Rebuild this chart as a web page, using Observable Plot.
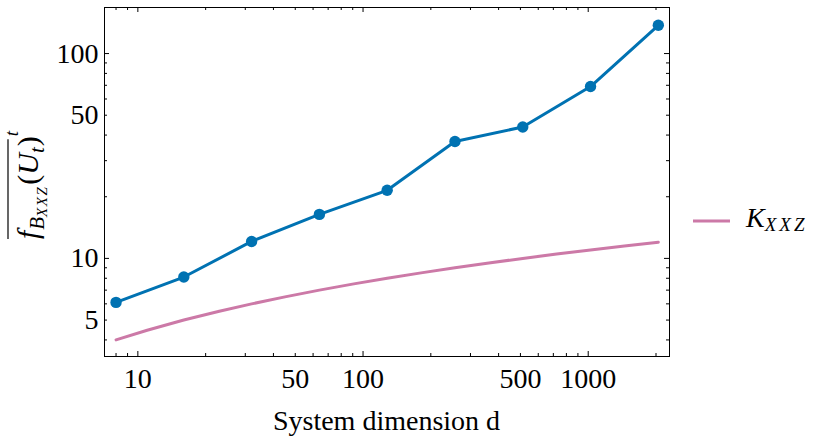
<!DOCTYPE html>
<html><head><meta charset="utf-8">
<script src="https://cdn.jsdelivr.net/npm/d3@7"></script>
<script src="https://cdn.jsdelivr.net/npm/@observablehq/plot@0.6"></script>
<style>body{margin:0;background:#fff} #chart{width:830px;height:444px}</style>
</head><body><div id="chart"></div>
<script>
const dims = [8, 16, 32, 64, 128, 256, 512, 1024, 2048];
const fidelity = [6.10, 8.11, 12.1, 16.4, 21.5, 37.2, 43.8, 69.0, 137.4];
const kDims = [8, 11, 16, 23, 32, 45, 64, 91, 128, 181, 256, 362, 512, 724, 1024, 1448, 2048];
const kValues = [4.0, 4.46, 5.0, 5.52, 6.0, 6.49, 7.0, 7.51, 8.0, 8.5, 9.0, 9.5, 10.0, 10.5, 11.0, 11.5, 12.0];
const xMajor = [10, 100, 1000];
const xMinor = [8, 9, 20, 30, 40, 50, 60, 70, 80, 90, 200, 300, 400, 500, 600, 700, 800, 900, 2000];
const xLabels = [10, 50, 100, 500, 1000];
const yMajor = [10, 100];
const yMinor = [4, 5, 6, 7, 8, 9, 20, 30, 40, 50, 60, 70, 80, 90];
const yLabels = [5, 10, 50, 100];
const xTitle = "System dimension d";
const legendName = ["K", "XXZ"];

const W = 830, H = 444, mL = 104, mR = 161, mT = 7, mB = 88;
const fh = H - mT - mB, fw = W - mL - mR;
const blue = "#0072B2", pink = "#CC79A7";
const FONT = "'Liberation Serif', 'Times New Roman', serif";

const fData = dims.map((d, i) => ({d, v: fidelity[i]}));
const kData = kDims.map((d, i) => ({d, v: kValues[i]}));

const chart = Plot.plot({
  width: W, height: H,
  marginLeft: mL, marginRight: mR, marginTop: mT, marginBottom: mB,
  style: {fontFamily: FONT, fontSize: "28px", background: "white", color: "black"},
  x: {type: "log", domain: [7.11, 2296], axis: null},
  y: {type: "log", domain: [3.32, 167.8], axis: null},
  marks: [
    Plot.text(xLabels, {x: d => d, frameAnchor: "bottom", dy: 12, lineAnchor: "top", text: d => String(d), fill: "black", fontSize: 28}),
    Plot.text(yLabels, {y: d => d, frameAnchor: "left", dx: -6, textAnchor: "end", text: d => String(d), fill: "black", fontSize: 28}),
    Plot.tickX(xMajor, {x: d => d, insetTop: fh - 5, stroke: "black"}),
    Plot.tickX(xMajor, {x: d => d, insetBottom: fh - 5, stroke: "black"}),
    Plot.tickX(xMinor, {x: d => d, insetTop: fh - 3, stroke: "black"}),
    Plot.tickX(xMinor, {x: d => d, insetBottom: fh - 3, stroke: "black"}),
    Plot.tickY(yMajor, {y: d => d, insetRight: fw - 5, stroke: "black"}),
    Plot.tickY(yMajor, {y: d => d, insetLeft: fw - 5, stroke: "black"}),
    Plot.tickY(yMinor, {y: d => d, insetRight: fw - 3, stroke: "black"}),
    Plot.tickY(yMinor, {y: d => d, insetLeft: fw - 3, stroke: "black"}),
    Plot.line(kData, {x: "d", y: "v", stroke: pink, strokeWidth: 3}),
    Plot.line(fData, {x: "d", y: "v", stroke: blue, strokeWidth: 3}),
    Plot.dot(fData, {x: "d", y: "v", r: 5.7, fill: blue, stroke: "none"}),
    Plot.frame({stroke: "black", strokeWidth: 1})
  ]
});
document.getElementById("chart").appendChild(chart);

const svg = d3.select(chart);
// x title
svg.append("text").attr("x", mL + fw / 2).attr("y", 430).attr("text-anchor", "middle")
  .attr("font-size", 28).attr("font-family", FONT).attr("fill", "black").text(xTitle);

// y title
const g = svg.append("g").attr("transform", "translate(38,185) rotate(-90)")
  .attr("font-family", FONT).attr("fill", "black").attr("text-anchor", "start");
const main = g.append("text").attr("font-size", 30).attr("text-anchor", "start");
main.append("tspan").attr("font-style", "italic").text("f");
main.append("tspan").attr("font-style", "italic").attr("font-size", 21).attr("dy", 6).attr("dx", 1).text("B");
main.append("tspan").attr("font-style", "italic").attr("font-size", 15).attr("dy", 3).attr("letter-spacing", 1.5).text("XXZ");
main.append("tspan").attr("dy", -9).attr("dx", 1).text("(");
main.append("tspan").attr("font-style", "italic").text("U");
main.append("tspan").attr("font-style", "italic").attr("font-size", 21).attr("dy", 6).text("t");
main.append("tspan").attr("dy", -6).attr("dx", 1).text(")");
const L = main.node().getComputedTextLength();
const sup = g.append("text").attr("font-size", 19).attr("font-style", "italic").attr("text-anchor", "start").text("t");
const tw = sup.node().getComputedTextLength();
const x0 = -(L + tw + 3) / 2;
main.attr("x", x0);
sup.attr("x", x0 + L + 3).attr("y", -20);
g.append("line").attr("x1", x0).attr("x2", x0 + L).attr("y1", -30).attr("y2", -30)
  .attr("stroke", "black").attr("stroke-width", 1.2);

// legend
svg.append("line").attr("x1", 693).attr("x2", 730).attr("y1", 221).attr("y2", 221)
  .attr("stroke", pink).attr("stroke-width", 3);
const lt = svg.append("text").attr("x", 746).attr("y", 227).attr("font-family", FONT)
  .attr("font-size", 28).attr("fill", "black").attr("text-anchor", "start");
lt.append("tspan").attr("font-style", "italic").text(legendName[0]);
lt.append("tspan").attr("font-style", "italic").attr("font-size", 19).attr("dy", 4)
  .attr("letter-spacing", 3).text(legendName[1]);
</script>
</body></html>
